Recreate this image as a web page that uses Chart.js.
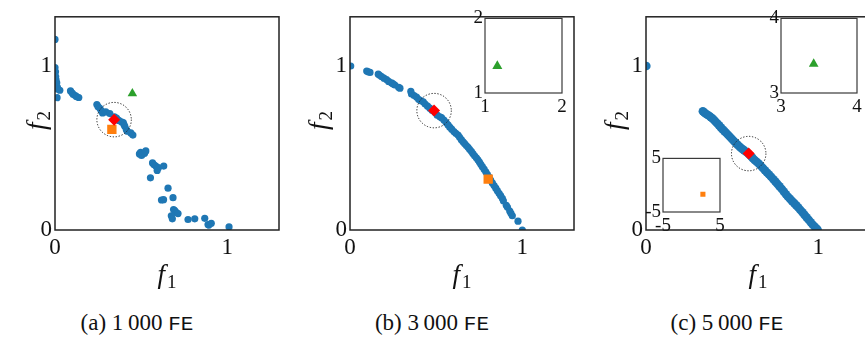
<!DOCTYPE html>
<html>
<head>
<meta charset="utf-8">
<script src="https://cdn.jsdelivr.net/npm/chart.js@4.4.1/dist/chart.umd.min.js"></script>
<style>
  body { margin: 0; width: 865px; height: 346px; overflow: hidden; background: #fff; position: relative; }
  canvas { position: absolute; }
  .cap { position: absolute; top: 310px; white-space: nowrap; transform: translateX(-50%);
         font: 23px "Liberation Serif", serif; color: #111; }
  .cap span { font-family: "Liberation Mono", monospace; font-size: 21px; }
</style>
</head>
<body>
<script>
// tick labels
const xTickVals = [0, 1];
const yTickVals = [0, 1];
const insetTicksB = [1, 2];
const insetTicksC1 = [3, 4];
const insetTicksC2 = [-5, 5];

// captions
const captions = ['(a)', '(b)', '(c)'];
const budgets = ['1\u2009000', '3\u2009000', '5\u2009000'];
const budgetUnit = 'FE';

// population after 1000 FE
const aF1 = [0.000, 0.000, 0.003, 0.004, 0.006, 0.010, 0.014, 0.014, 0.028, 0.012,
  0.090, 0.100, 0.106, 0.118, 0.125, 0.138,
  0.243, 0.250, 0.260, 0.268, 0.276, 0.295, 0.318,
  0.345, 0.357, 0.370, 0.385, 0.396, 0.400, 0.405, 0.414, 0.420, 0.440, 0.452,
  0.490, 0.497, 0.502, 0.508, 0.520, 0.527,
  0.566, 0.575, 0.585, 0.593, 0.600, 0.631, 0.554,
  0.656, 0.618, 0.630, 0.685,
  0.688, 0.695, 0.703, 0.714, 0.675, 0.681,
  0.772, 0.811, 0.869, 0.888, 0.893, 0.907, 1.010];
const aF2 = [1.162, 0.990, 0.965, 0.936, 0.915, 0.898, 0.870, 0.859, 0.852, 0.807,
  0.848, 0.835, 0.826, 0.820, 0.813, 0.808,
  0.765, 0.752, 0.742, 0.728, 0.714, 0.720, 0.710,
  0.690, 0.683, 0.668, 0.660, 0.655, 0.643, 0.632, 0.612, 0.602, 0.592, 0.579,
  0.464, 0.473, 0.455, 0.462, 0.468, 0.482,
  0.409, 0.398, 0.390, 0.363, 0.380, 0.390, 0.318,
  0.255, 0.183, 0.185, 0.197,
  0.125, 0.118, 0.108, 0.100, 0.087, 0.068,
  0.064, 0.068, 0.071, 0.033, 0.030, 0.041, 0.019];

// population after 3000 FE
const bF1 = [0.004, 0.097, 0.106, 0.116, 0.164, 0.172, 0.183, 0.197, 0.212, 0.224, 0.241, 0.250, 0.260, 0.282, 0.290,
  0.353, 0.357, 0.372, 0.386, 0.398, 0.410, 0.425, 0.436, 0.450, 0.463, 0.476, 0.492, 0.506, 0.521, 0.531,
  0.545, 0.558, 0.569, 0.579, 0.590, 0.603, 0.614, 0.627, 0.636, 0.646, 0.656, 0.665, 0.675, 0.685,
  0.694, 0.704, 0.713, 0.723, 0.733, 0.742, 0.751, 0.759, 0.768, 0.778, 0.788, 0.797, 0.807, 0.816,
  0.826, 0.836, 0.846, 0.855, 0.865, 0.874, 0.884, 0.890, 0.907, 0.914, 0.927, 0.934, 0.942, 0.975, 1.000];
const bF2 = [1.000, 0.969, 0.965, 0.961, 0.950, 0.943, 0.936, 0.926, 0.917, 0.906, 0.897, 0.891, 0.884, 0.870, 0.865,
  0.845, 0.830, 0.820, 0.811, 0.797, 0.789, 0.782, 0.768, 0.755, 0.743, 0.730, 0.718, 0.700, 0.690, 0.685,
  0.670, 0.655, 0.641, 0.627, 0.615, 0.600, 0.590, 0.579, 0.565, 0.551, 0.538, 0.527, 0.515, 0.504,
  0.492, 0.480, 0.466, 0.452, 0.440, 0.428, 0.414, 0.401, 0.386, 0.371, 0.355, 0.339, 0.322, 0.305,
  0.287, 0.271, 0.255, 0.240, 0.224, 0.209, 0.193, 0.178, 0.151, 0.138, 0.116, 0.102, 0.087, 0.054, 0.000];

// population after 5000 FE
const cF1 = [0.002, 0.330, 0.338, 0.347, 0.356, 0.366, 0.376, 0.386, 0.395, 0.404, 0.414, 0.424, 0.434, 0.444, 0.455,
  0.466, 0.477, 0.488, 0.499, 0.510, 0.521, 0.532, 0.544, 0.556, 0.568, 0.580, 0.594, 0.606, 0.618, 0.630,
  0.642, 0.654, 0.666, 0.678, 0.690, 0.702, 0.714, 0.726, 0.739, 0.751, 0.763, 0.775, 0.788, 0.800, 0.812,
  0.824, 0.836, 0.848, 0.860, 0.872, 0.884, 0.896, 0.908, 0.920, 0.932, 0.944, 0.956, 0.968, 0.980, 0.990, 0.996];
const cF2 = [1.000, 0.724, 0.716, 0.709, 0.703, 0.697, 0.688, 0.680, 0.671, 0.660, 0.649, 0.638, 0.626, 0.614, 0.603,
  0.591, 0.579, 0.567, 0.555, 0.543, 0.530, 0.519, 0.507, 0.496, 0.487, 0.477, 0.465, 0.453, 0.440, 0.427,
  0.416, 0.405, 0.392, 0.378, 0.364, 0.351, 0.338, 0.325, 0.309, 0.295, 0.281, 0.266, 0.250, 0.234, 0.218,
  0.203, 0.190, 0.176, 0.164, 0.150, 0.137, 0.122, 0.108, 0.092, 0.077, 0.062, 0.047, 0.032, 0.019, 0.008, 0.002];

// highlighted solutions per panel (a, b, c)
const bestF1 = [0.343, 0.488, 0.596];
const bestF2 = [0.673, 0.728, 0.466];
const squareF1 = [0.330, 0.802, 2.0];   // (c): shown in the lower inset
const squareF2 = [0.614, 0.310, -1.7];
const triF1 = [0.449, 1.16, 3.43];      // (b), (c): shown in the upper insets
const triF2 = [0.832, 1.36, 3.39];
const nicheRadius = 0.1;

const BLUE = '#1f77b4', ORANGE = '#ff7f0e', GREEN = '#2ca02c', RED = '#ff0000';
const SERIF = '"Liberation Serif", "DejaVu Serif", serif';

function pts(xs, ys) { return xs.map((v, i) => ({ x: v, y: ys[i] })); }

const framePlugin = {
  id: 'frame',
  afterDatasetsDraw(chart, args, opts) {
    const a = chart.chartArea, ctx = chart.ctx;
    ctx.save();
    ctx.strokeStyle = opts.color || '#222';
    ctx.lineWidth = opts.width || 1.5;
    ctx.strokeRect(a.left, a.top, a.right - a.left, a.bottom - a.top);
    ctx.restore();
  }
};

const nichePlugin = {
  id: 'niche',
  afterDatasetsDraw(chart, args, opts) {
    if (!opts.center) return;
    const sx = chart.scales.x, sy = chart.scales.y, ctx = chart.ctx;
    const cx = sx.getPixelForValue(opts.center.x), cy = sy.getPixelForValue(opts.center.y);
    const r = sx.getPixelForValue(opts.center.x + opts.radius) - cx;
    ctx.save();
    ctx.beginPath();
    ctx.setLineDash([1.3, 1.7]);
    ctx.lineWidth = 1;
    ctx.strokeStyle = '#222';
    ctx.arc(cx, cy, r, 0, Math.PI * 2);
    ctx.stroke();
    ctx.restore();
  }
};

// italic f with subscript, as axis titles
function drawF(ctx, x, y, sub) {
  ctx.font = 'italic 27px ' + SERIF;
  const fw = ctx.measureText('f').width;
  ctx.font = '19px ' + SERIF;
  const sw = ctx.measureText(sub).width;
  const x0 = x - (fw + sw + 2) / 2;
  ctx.textBaseline = 'alphabetic';
  ctx.textAlign = 'left';
  ctx.fillStyle = '#111';
  ctx.font = 'italic 27px ' + SERIF;
  ctx.fillText('f', x0, y + 7);
  ctx.font = '19px ' + SERIF;
  ctx.fillText(sub, x0 + fw + 2, y + 12);
}

const titlePlugin = {
  id: 'ftitles',
  afterDraw(chart, args, opts) {
    const a = chart.chartArea, ctx = chart.ctx;
    ctx.save();
    drawF(ctx, (a.left + a.right) / 2, a.bottom + 46, '1');
    ctx.translate(a.left - opts.yGap, (a.top + a.bottom) / 2 - 3);
    ctx.rotate(-Math.PI / 2);
    drawF(ctx, 0, 0, '2');
    ctx.restore();
  }
};

function axis(min, max, ticks, isY, fontSize, pad, fit) {
  return {
    type: 'linear', min: min, max: max,
    afterBuildTicks: s => { s.ticks = ticks.map(v => ({ value: v })); },
    afterFit: s => { if (isY) s.width = fit; else s.height = fit; },
    grid: { display: false, drawTicks: false },
    border: { display: false },
    ticks: {
      padding: pad, maxRotation: 0, autoSkip: false,
      color: '#111',
      font: { family: SERIF, size: fontSize },
      callback: v => String(v)
    }
  };
}

function addCanvas(left, top, w, h) {
  const c = document.createElement('canvas');
  c.width = w; c.height = h;
  c.style.left = left + 'px'; c.style.top = top + 'px';
  c.style.width = w + 'px'; c.style.height = h + 'px';
  document.body.appendChild(c);
  return c;
}

function mainPanel(left, i, f1, f2, dotR, yGap, withSquare, withTri) {
  const sets = [
    { data: [{ x: bestF1[i], y: bestF2[i] }], pointStyle: 'rectRot', pointRadius: 6, backgroundColor: RED, borderWidth: 0, order: 0 }
  ];
  if (withSquare) sets.push({ data: [{ x: squareF1[i], y: squareF2[i] }], pointStyle: 'rect', pointRadius: 6.6, backgroundColor: ORANGE, borderWidth: 0, order: 1 });
  if (withTri) sets.push({ data: [{ x: triF1[i], y: triF2[i] }], pointStyle: 'triangle', pointRadius: 5.5, backgroundColor: GREEN, borderWidth: 0, order: 2 });
  sets.push({ data: pts(f1, f2), pointRadius: dotR, backgroundColor: BLUE, borderWidth: 0, order: 5 });
  sets.forEach(d => { d.clip = 0; d.pointHoverRadius = d.pointRadius; });

  return new Chart(addCanvas(left, 0, 290, 290), {
    type: 'scatter',
    data: { datasets: sets },
    options: {
      responsive: false, animation: false, devicePixelRatio: 1,
      layout: { padding: { top: 6, right: 11, left: 0, bottom: 0 } },
      plugins: {
        legend: { display: false }, tooltip: { enabled: false },
        frame: { color: '#222', width: 1.5 },
        niche: { center: { x: bestF1[i], y: bestF2[i] }, radius: nicheRadius },
        ftitles: { yGap: yGap }
      },
      scales: {
        x: axis(0, 1.3, xTickVals, false, 23, 4, 60),
        y: axis(0, 1.3, yTickVals, true, 23, 3, 55)
      }
    },
    plugins: [framePlugin, nichePlugin, titlePlugin]
  });
}

function insetPanel(boxLeft, boxTop, w, h, ticks, point, style, r, color) {
  const lpad = 24, tpad = 12, rpad = 12, bpad = 26;
  return new Chart(addCanvas(boxLeft - lpad, boxTop - tpad, w + lpad + rpad, h + tpad + bpad), {
    type: 'scatter',
    data: { datasets: [{ data: [point], pointStyle: style, pointRadius: r, pointHoverRadius: r, backgroundColor: color, borderWidth: 0 }] },
    options: {
      responsive: false, animation: false, devicePixelRatio: 1,
      layout: { padding: { top: tpad, right: rpad, left: 0, bottom: 0 } },
      plugins: { legend: { display: false }, tooltip: { enabled: false }, frame: { color: '#3a3a3a', width: 1.2 } },
      scales: {
        x: axis(ticks[0], ticks[1], ticks, false, 19, 3, bpad),
        y: axis(ticks[0], ticks[1], ticks, true, 19, 2, lpad)
      }
    },
    plugins: [framePlugin]
  });
}

mainPanel(0, 0, aF1, aF2, 3.6, 17, true, true);
mainPanel(295, 1, bF1, bF2, 3.6, 30, true, false);
mainPanel(591, 2, cF1, cF2, 4.3, 30, false, false);

insetPanel(485, 17, 77, 76, insetTicksB, { x: triF1[1], y: triF2[1] }, 'triangle', 5.8, GREEN);
insetPanel(781, 17, 76, 76, insetTicksC1, { x: triF1[2], y: triF2[2] }, 'triangle', 5.6, GREEN);
insetPanel(663, 157, 57, 55, insetTicksC2, { x: squareF1[2], y: squareF2[2] }, 'rect', 3.6, ORANGE);

// captions, centred under each subfigure
const capX = [137, 432, 727];
captions.forEach((c, i) => {
  const d = document.createElement('div');
  d.className = 'cap';
  d.style.left = capX[i] + 'px';
  d.innerHTML = c + ' ' + budgets[i] + ' <span>' + budgetUnit + '</span>';
  document.body.appendChild(d);
});
</script>
</body>
</html>
